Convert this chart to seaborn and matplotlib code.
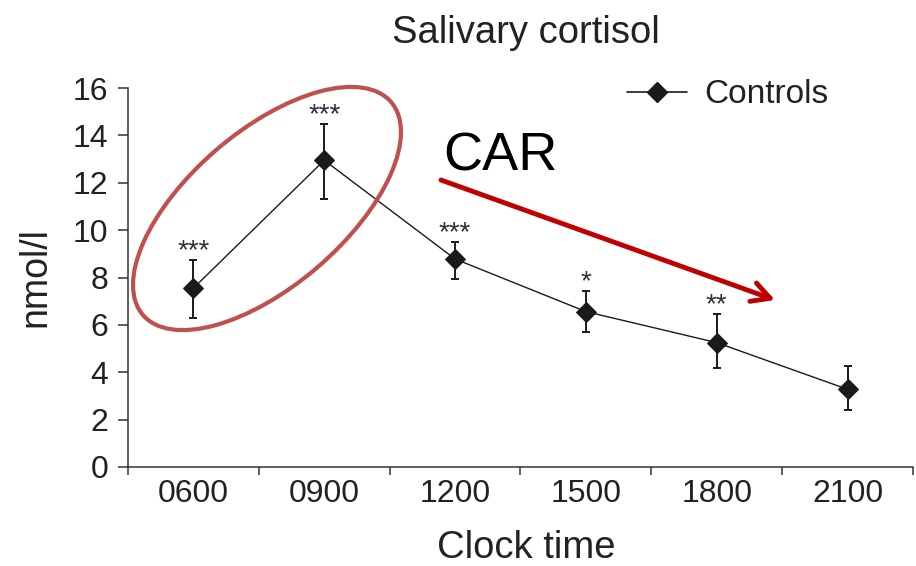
import numpy as np
import pandas as pd
import matplotlib.pyplot as plt
import seaborn as sns
from matplotlib.lines import Line2D
from matplotlib.patches import Ellipse

# datos
times = ['0600', '0900', '1200', '1500', '1800', '2100']
cortisol = [7.55, 12.95, 8.78, 6.56, 5.25, 3.28]
err_upper = [8.74, 14.5, 9.51, 7.44, 6.46, 4.28]
err_lower = [6.28, 11.3, 7.94, 5.69, 4.19, 2.41]
stars = ['***', '***', '***', '*', '**', '']
yticks = [0, 2, 4, 6, 8, 10, 12, 14, 16]

df = pd.DataFrame({'time': times, 'cortisol': cortisol})

sns.set_theme(style='ticks')
plt.rcParams['font.family'] = ['Liberation Sans', 'DejaVu Sans']

W, H = 916, 566
fig, ax = plt.subplots(figsize=(W / 100, H / 100), dpi=100)
fig.subplots_adjust(left=128 / W, right=913 / W, bottom=1 - 467 / H, top=1 - 88 / H)

ink = '#1a1a1a'
axcol = '#333333'

# linea + diamantes
sns.pointplot(data=df, x='time', y='cortisol', color=ink, markers='D',
              markersize=10, linewidth=1.0, errorbar=None, ax=ax)

# barras de error
y = np.array(cortisol)
yerr = [y - np.array(err_lower), np.array(err_upper) - y]
ax.errorbar(range(len(times)), y, yerr=yerr, fmt='none', ecolor=ink,
            elinewidth=1.4, capsize=3, capthick=1.4, zorder=1)

# asteriscos de significancia
for i, s in enumerate(stars):
    if s:
        ax.annotate(s, (i, err_upper[i]), xytext=(0, 1), textcoords='offset points',
                    ha='center', va='baseline', fontsize=20, color='#2d2d3c')

# ejes
ax.set_xlim(-0.5, 5.5)
ax.set_ylim(0, 16)
ax.set_xticks(range(len(times)))
ax.set_xticklabels(times)
ax.set_xticks(np.arange(-0.5, 6.0, 1), minor=True)
ax.set_yticks(yticks)
ax.tick_params(axis='x', which='major', length=0, pad=8.6, labelsize=23, labelcolor='#222222')
ax.tick_params(axis='x', which='minor', length=6, width=1.1, direction='out', color=axcol)
ax.tick_params(axis='y', length=7, width=1.1, pad=7, direction='out', labelsize=23,
               color=axcol, labelcolor='#222222')
sns.despine(ax=ax)
for sp in ['left', 'bottom']:
    ax.spines[sp].set_color(axcol)
    ax.spines[sp].set_linewidth(1.1)

ax.set_ylabel('nmol/l', fontsize=27, color='#222222')
ax.yaxis.set_label_coords(-0.095, 0.5)
ax.set_xlabel('Clock time', fontsize=27.5, color='#222222')
ax.xaxis.set_label_coords(0.507, -0.166)

fig.text(526 / W, 1 - 43 / H, 'Salivary cortisol', ha='center', va='baseline',
         fontsize=27.5, color='#222222')

# leyenda
handle = Line2D([], [], color=ink, marker='D', markersize=10, lw=1.2)
ax.legend([handle], ['Controls'], loc='center left', bbox_to_anchor=(0.636, 0.982),
          frameon=False, fontsize=24, handlelength=1.8, handletextpad=0.5,
          borderpad=0, borderaxespad=0, labelcolor='#222222')

# anotaciones: elipse CAR y flecha
ell = Ellipse((267 / 100, (H - 208.5) / 100), 3.27, 1.55, angle=40.6, fill=False,
              edgecolor='#C0504D', linewidth=3, transform=fig.dpi_scale_trans)
fig.add_artist(ell)

fig.text(443 / W, 1 - 171 / H, 'CAR', ha='left', va='baseline', fontsize=39, color='black')
ax.annotate('', xy=(775, H - 300), xytext=(441, H - 180), xycoords='figure pixels',
            textcoords='figure pixels',
            arrowprops=dict(arrowstyle='->,head_length=0.65,head_width=0.35', lw=3.5,
                            color='#C00000', mutation_scale=20, shrinkA=0, shrinkB=0))

plt.savefig('out.png', dpi=100)
